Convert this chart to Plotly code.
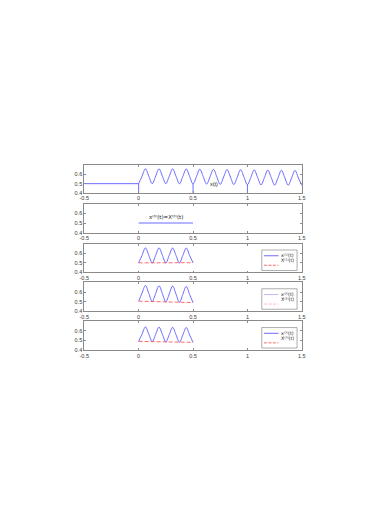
import plotly.graph_objects as go

# ---------------- data ----------------
t_pre = [-0.5, 0.0]
x_pre = [0.5, 0.5]

t_sig = [0.0, 0.03125, 0.0625, 0.09375, 0.125, 0.15625, 0.1875, 0.21875,
         0.25, 0.28125, 0.3125, 0.34375, 0.375, 0.40625, 0.4375, 0.46875,
         0.5, 0.53125, 0.5625, 0.59375, 0.625, 0.65625, 0.6875, 0.71875,
         0.75, 0.78125, 0.8125, 0.84375, 0.875, 0.90625, 0.9375, 0.96875,
         1.0, 1.03125, 1.0625, 1.09375, 1.125, 1.15625, 1.1875, 1.21875,
         1.25, 1.28125, 1.3125, 1.34375, 1.375, 1.40625, 1.4375, 1.46875, 1.5]
x_sig = [0.500, 0.580, 0.660, 0.580, 0.500, 0.580, 0.660, 0.580,
         0.500, 0.580, 0.659, 0.579, 0.499, 0.578, 0.658, 0.578,
         0.497, 0.576, 0.656, 0.575, 0.495, 0.574, 0.654, 0.573,
         0.493, 0.572, 0.652, 0.571, 0.491, 0.570, 0.650, 0.569,
         0.489, 0.568, 0.648, 0.567, 0.487, 0.566, 0.646, 0.565,
         0.485, 0.564, 0.644, 0.563, 0.483, 0.562, 0.642, 0.561, 0.481]

bound_t = [0.0, 0.5, 1.0]
bound_top = [0.500, 0.497, 0.489]

t_seg = t_sig[:17]
x0_t = [0.0, 0.5]
x0_v = [0.5, 0.5]

x1 = [0.500, 0.578, 0.656, 0.578, 0.500, 0.578, 0.656, 0.578, 0.500,
      0.578, 0.655, 0.577, 0.500, 0.577, 0.654, 0.577, 0.501]
X1_t = [0.0, 0.5]
X1_v = [0.500, 0.502]

x2 = [0.505, 0.588, 0.668, 0.585, 0.502, 0.584, 0.665, 0.582, 0.498,
      0.580, 0.662, 0.578, 0.494, 0.576, 0.658, 0.574, 0.490]
X2_t = [0.0, 0.5]
X2_v = [0.505, 0.490]

x3 = [0.490, 0.565, 0.640, 0.564, 0.488, 0.563, 0.638, 0.562, 0.485,
      0.560, 0.636, 0.559, 0.482, 0.557, 0.634, 0.556, 0.480]
X3_t = [0.0, 0.5]
X3_v = [0.490, 0.480]

x_ticks = [-0.5, 0, 0.5, 1, 1.5]
x_ticktext = ["-0.5", "0", "0.5", "1", "1.5"]
y_ticks = [0.4, 0.5, 0.6]
y_ticktext = ["0.4", "0.5", "0.6"]

# ---------------- layout geometry ----------------
W, H = 372, 527
OFF = 8  # page body margin
panel_px = [(166, 194), (205, 234), (245, 274), (284, 313), (323, 352)]
x_left, x_right = 81, 304

BLUE = "rgb(70,70,255)"
RED = "rgb(255,70,70)"
AXC = "#8a8a8a"
TXT = "#3a3a3a"
FONT = "Liberation Sans, Arial, sans-serif"
FS = 5.5

fig = go.Figure()

def ax(i):
    return ("x" if i == 1 else f"x{i}"), ("y" if i == 1 else f"y{i}")

# panel 1
xa, ya = ax(1)
fig.add_trace(go.Scatter(x=t_pre, y=x_pre, mode="lines", line=dict(color=BLUE, width=0.8),
                         xaxis=xa, yaxis=ya, showlegend=False, name="x(t)"))
fig.add_trace(go.Scatter(x=t_sig, y=x_sig, mode="lines", line=dict(color=BLUE, width=0.8, shape="spline"),
                         xaxis=xa, yaxis=ya, showlegend=False, name="x(t)"))
for bt, btop in zip(bound_t, bound_top):
    fig.add_trace(go.Scatter(x=[bt, bt], y=[0.4, btop], mode="lines", line=dict(color=BLUE, width=0.8),
                             xaxis=xa, yaxis=ya, showlegend=False))

# panel 2
xa, ya = ax(2)
fig.add_trace(go.Scatter(x=x0_t, y=x0_v, mode="lines", line=dict(color="rgba(60,60,255,0.5)", width=1.5),
                         xaxis=xa, yaxis=ya, showlegend=False, name="x(0)(t)"))

# panels 3-5
series = [(3, x1, X1_t, X1_v, "\u00b9", 1.0), (4, x2, X2_t, X2_v, "\u00b2", 0.6), (5, x3, X3_t, X3_v, "\u00b3", 1.0)]
for i, xs, Xt, Xv, k, lg_op in series:
    xa, ya = ax(i)
    fig.add_trace(go.Scatter(x=t_seg, y=xs, mode="lines", line=dict(color=BLUE, width=0.8, shape="spline"),
                             xaxis=xa, yaxis=ya, showlegend=False, name=f"x\u207d{k}\u207e(t)"))
    fig.add_trace(go.Scatter(x=Xt, y=Xv, mode="lines", line=dict(color=RED, width=0.8, dash="4px,2px"),
                             xaxis=xa, yaxis=ya, showlegend=False, name=f"X\u207d{k}\u207e(t)"))

layout = dict(width=W, height=H, autosize=False, margin=dict(l=0, r=0, t=0, b=0),
              paper_bgcolor="white", plot_bgcolor="white",
              font=dict(family=FONT, size=FS, color=TXT))

shapes = []
annotations = []
for i, (top, bot) in enumerate(panel_px, start=1):
    xk = "xaxis" if i == 1 else f"xaxis{i}"
    yk = "yaxis" if i == 1 else f"yaxis{i}"
    xa, ya = ax(i)
    layout[xk] = dict(domain=[(x_left - OFF) / W, (x_right - OFF) / W], range=[-0.5, 1.5], anchor=ya,
                      tickvals=x_ticks, ticktext=x_ticktext, ticks="inside", ticklen=2,
                      tickcolor=AXC, tickwidth=0.6, showline=True, linecolor=AXC, linewidth=0.8,
                      mirror="ticks", showgrid=False, zeroline=False,
                      tickfont=dict(size=FS, color=TXT, family=FONT), fixedrange=True)
    layout[yk] = dict(domain=[1 - (bot - OFF) / H, 1 - (top - OFF) / H], range=[0.4, 0.7], anchor=xa,
                      tickvals=y_ticks, ticktext=y_ticktext, ticks="inside", ticklen=2,
                      tickcolor=AXC, tickwidth=0.6, showline=True, linecolor=AXC, linewidth=0.8,
                      mirror="ticks", showgrid=False, zeroline=False,
                      tickfont=dict(size=FS, color=TXT, family=FONT), fixedrange=True)

# text labels
annotations.append(dict(x=0.69, y=0.5, xref="x", yref="y", text="x(t)", showarrow=False,
                        font=dict(size=5.5, color="#202020", family=FONT)))
annotations.append(dict(x=0.25, y=0.56, xref="x2", yref="y2",
                        text="x\u207d\u2070\u207e(t)=X\u207d\u2070\u207e(t)", showarrow=False,
                        font=dict(size=5.5, color="#202020", family="DejaVu Sans, sans-serif")))

# manual legends (inside panels 3-5, upper right)
for i, xs, Xt, Xv, k, lg_op in series:
    xr = f"x{i} domain"
    yr = f"y{i} domain"
    shapes.append(dict(type="rect", xref=xr, yref=yr, x0=0.816, x1=0.978, y0=0.07, y1=0.78,
                       line=dict(color=AXC, width=0.7), fillcolor="white", layer="above"))
    bl = BLUE if lg_op == 1.0 else "rgba(70,70,255,0.45)"
    rd = RED if lg_op == 1.0 else "rgba(255,70,70,0.45)"
    shapes.append(dict(type="line", xref=xr, yref=yr, x0=0.826, x1=0.893, y0=0.58, y1=0.58,
                       line=dict(color=bl, width=0.8), layer="above"))
    shapes.append(dict(type="line", xref=xr, yref=yr, x0=0.826, x1=0.893, y0=0.25, y1=0.25,
                       line=dict(color=rd, width=0.8, dash="3px,1.5px"), layer="above"))
    annotations.append(dict(x=0.974, y=0.58, xref=xr, yref=yr, xanchor="right",
                            text=f"x\u207d{k}\u207e(t)", showarrow=False,
                            font=dict(size=4.8, color="#202020", family="DejaVu Sans, sans-serif")))
    annotations.append(dict(x=0.974, y=0.25, xref=xr, yref=yr, xanchor="right",
                            text=f"X\u207d{k}\u207e(t)", showarrow=False,
                            font=dict(size=4.8, color="#202020", family="DejaVu Sans, sans-serif")))

layout["shapes"] = shapes
layout["annotations"] = annotations
fig.update_layout(**layout)

fig.write_html("out.html")
